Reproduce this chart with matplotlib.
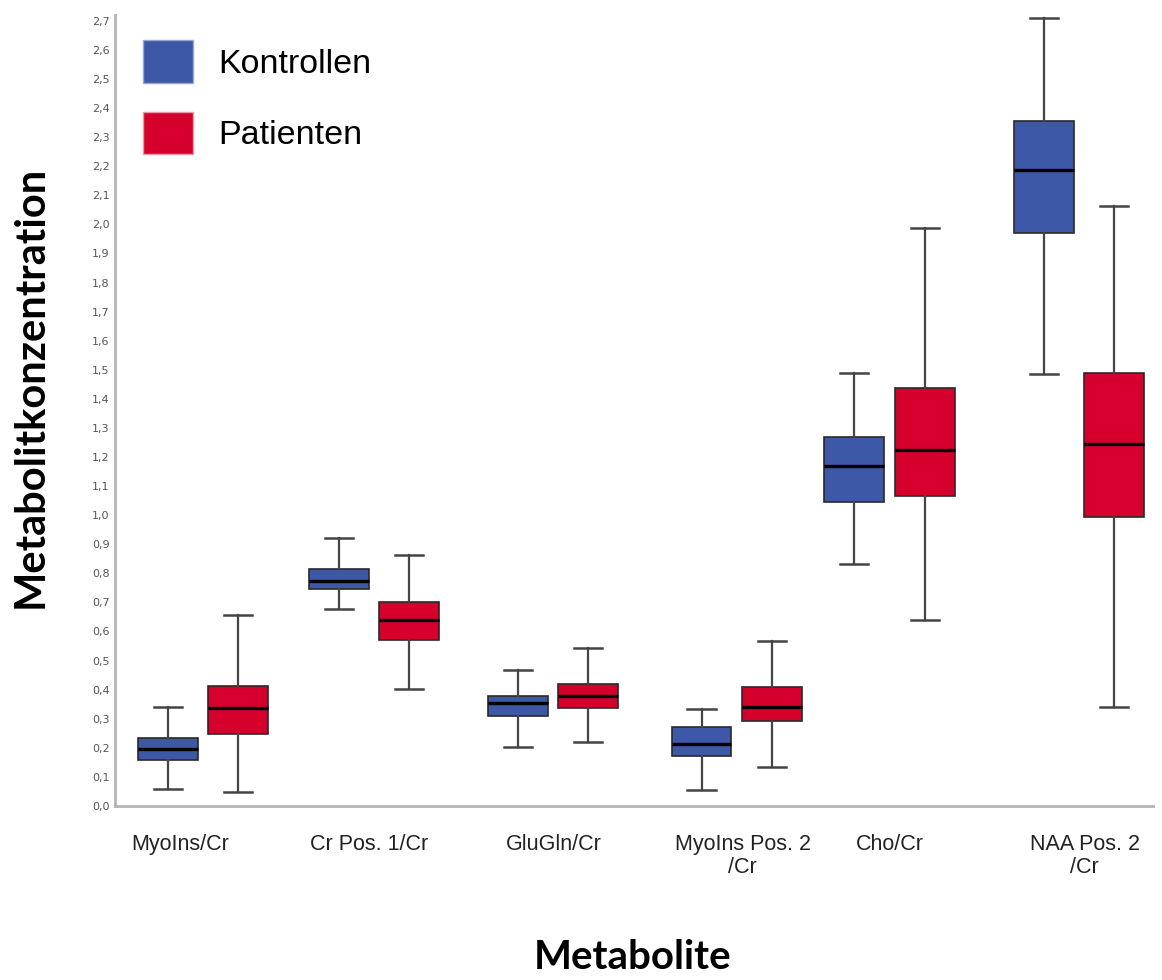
#!/usr/bin/env python3
import matplotlib.pyplot as plt
from matplotlib.patches import Patch
from matplotlib.ticker import FuncFormatter, MultipleLocator

# box statistics (whisker low, Q1, median, Q3, whisker high)
metabolites = ["MyoIns/Cr", "Cr Pos. 1/Cr", "GluGln/Cr", "MyoIns Pos. 2\n/Cr", "Cho/Cr", "NAA Pos. 2\n/Cr"]

kon_lo  = [0.058, 0.677, 0.203, 0.055, 0.832, 1.485]
kon_q1  = [0.158, 0.746, 0.310, 0.172, 1.045, 1.972]
kon_med = [0.196, 0.773, 0.354, 0.213, 1.168, 2.186]
kon_q3  = [0.232, 0.814, 0.378, 0.271, 1.268, 2.354]
kon_hi  = [0.340, 0.921, 0.467, 0.333, 1.488, 2.711]

pat_lo  = [0.048, 0.402, 0.220, 0.134, 0.639, 0.340]
pat_q1  = [0.247, 0.571, 0.337, 0.292, 1.065, 0.993]
pat_med = [0.337, 0.639, 0.378, 0.340, 1.223, 1.244]
pat_q3  = [0.412, 0.701, 0.419, 0.409, 1.436, 1.488]
pat_hi  = [0.657, 0.863, 0.543, 0.567, 1.986, 2.062]

# group centres (the original spacing is slightly uneven)
group_pos = [0.0, 0.975, 2.0, 3.045, 3.917, 5.0]
label_pos = [-0.13, 0.95, 2.0, 3.08, 3.92, 5.03]

BLUE = "#3d58a7"
RED = "#d5002b"


def stats(lo, q1, med, q3, hi):
    return [dict(whislo=a, q1=b, med=c, q3=d, whishi=e, fliers=[])
            for a, b, c, d, e in zip(lo, q1, med, q3, hi)]


fig = plt.figure(figsize=(11.62, 9.8), dpi=100)
ax = fig.add_axes([115/1162, 0.1776, (1153-115)/1162, 0.9847-0.1776])

for st, off, col in [(stats(kon_lo, kon_q1, kon_med, kon_q3, kon_hi), -0.2, BLUE),
                     (stats(pat_lo, pat_q1, pat_med, pat_q3, pat_hi), 0.2, RED)]:
    ax.bxp(st, positions=[p + off for p in group_pos], widths=0.342, capwidths=0.16,
           patch_artist=True, showfliers=False,
           boxprops=dict(facecolor=col, edgecolor="#2a2a2a", linewidth=1.2),
           medianprops=dict(color="black", linewidth=2.4),
           whiskerprops=dict(color="#444444", linewidth=1.6),
           capprops=dict(color="#444444", linewidth=1.8))

ax.set_xlim(-0.5, 5.42)
ax.set_ylim(0, 2.72)
ax.yaxis.set_major_locator(MultipleLocator(0.1))
ax.yaxis.set_major_formatter(FuncFormatter(lambda v, p: f"{v:.1f}".replace(".", ",")))
ax.set_xticks(label_pos, metabolites)

for s in ["top", "right"]:
    ax.spines[s].set_visible(False)
for s in ["left", "bottom"]:
    ax.spines[s].set_color("#b5b5b5")
    ax.spines[s].set_linewidth(2)

ax.tick_params(axis="y", length=0, pad=4, labelsize=8, labelcolor="#555555")
ax.tick_params(axis="x", length=0, pad=20, labelsize=15.5, labelcolor="#222222")
for t in ax.get_xticklabels():
    t.set_fontfamily("Liberation Sans")
    t.set_linespacing(1.15)

ax.set_ylabel("Metabolitkonzentration", fontsize=30, fontweight="bold", family="Lato")
ax.yaxis.set_label_coords(-65/1038, 0.53)
ax.set_xlabel("Metabolite", fontsize=29, fontweight="bold", family="Lato")
ax.xaxis.set_label_coords((633-115)/1038, -0.168)

handles = [Patch(facecolor=BLUE, edgecolor="#9aa6d0", label="Kontrollen"),
           Patch(facecolor=RED, edgecolor="#e89aa8", label="Patienten")]
ax.legend(handles=handles, loc="upper left", bbox_to_anchor=(0.027, 0.968), frameon=False,
          prop=dict(family="Liberation Sans", size=24.5), handlelength=1.47, handleheight=1.55,
          handletextpad=0.75, labelspacing=0.85, borderpad=0, borderaxespad=0)

plt.savefig("out.png", dpi=100)
